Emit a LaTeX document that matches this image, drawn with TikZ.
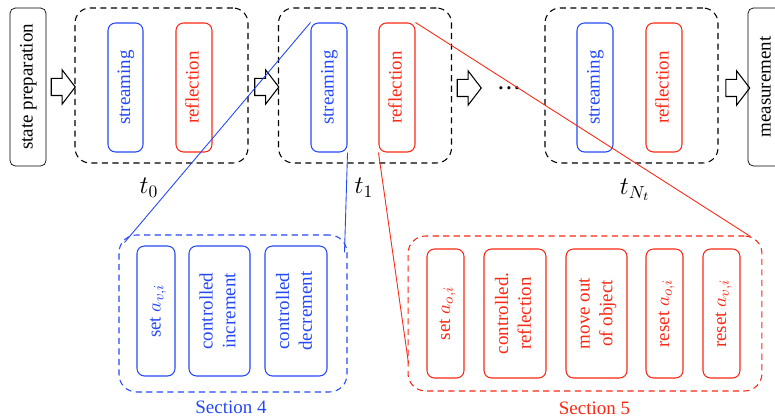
\documentclass[tikz,border=0pt]{standalone}
\usepackage{fontspec}
\setmainfont{Liberation Serif}
\usetikzlibrary{shapes.arrows}
\definecolor{qblue}{RGB}{36,72,245}
\definecolor{qred}{RGB}{250,40,20}
\tikzset{
	endbox/.style={draw, rounded corners=3pt, inner sep=0pt, minimum width=0.72cm, minimum height=3.16cm},
	stepgroup/.style={draw, semithick, dash pattern=on 3.5pt off 2.5pt, rounded corners=0.3cm, minimum width=3.46cm, minimum height=3.1cm},
	secgroup/.style={draw, semithick, dash pattern=on 3.5pt off 2.5pt, rounded corners=0.35cm},
	opbox/.style={draw, semithick, rounded corners=0.15cm, inner sep=0pt, minimum height=2.58cm},
	flowarrow/.style={single arrow, draw, semithick, inner sep=0pt, minimum height=0.48cm, single arrow head extend=0.17cm, single arrow tip angle=105},
	zoomline/.style={line width=0.5pt}
}
\newcommand{\vtext}[1]{\rotatebox{90}{\begin{tabular}{@{}c@{}}#1\end{tabular}}}
\begin{document}
\begin{tikzpicture}[x=0.02cm, y=-0.02cm, font=\fontsize{10.8}{13}\selectfont]
		\useasboundingbox (0,0) rectangle (775,418);

		\node[endbox] (prep) at (28,87) {\vtext{state preparation}};
		\node[endbox] (meas) at (766,87) {\vtext{measurement}};

		\node[stepgroup] (g0) at (161.5,85.5) {};
		\node[opbox, qblue, minimum width=0.7cm] (s0) at (125.5,87.5) {\vtext{streaming}};
		\node[opbox, qred, minimum width=0.72cm] (r0) at (194,87.5) {\vtext{reflection}};
		\node (t0) at (149,188) {\Large $t_0$};

		\node[stepgroup] (g1) at (365,85.5) {};
		\node[opbox, qblue, minimum width=0.72cm] (s1) at (329,87.5) {\vtext{streaming}};
		\node[opbox, qred, minimum width=0.72cm] (r1) at (397,87.5) {\vtext{reflection}};
		\node (t1) at (364,188) {\Large $t_1$};

		\node[stepgroup] (g2) at (631.5,85.5) {};
		\node[opbox, qblue, minimum width=0.72cm] (s2) at (595,87.5) {\vtext{streaming}};
		\node[opbox, qred, minimum width=0.72cm] (r2) at (664,87.5) {\vtext{reflection}};
		\node (t2) at (635,190) {\Large $t_{N_t}$};

		\node[flowarrow] (a0) at (60,87) {\rule{0pt}{0.32cm}};
		\node[flowarrow] (a1) at (263.5,87) {\rule{0pt}{0.32cm}};
		\node[flowarrow] (a2) at (466,88) {\rule{0pt}{0.32cm}};
		\node[flowarrow] (a3) at (734.5,88) {\rule{0pt}{0.32cm}};
		\node[inner sep=0pt] (dots) at (509,88) {\textbf{.\kern1.8pt.\kern1.8pt.}};

		\node[secgroup, qblue, minimum width=4.56cm, minimum height=3.14cm] (sec4) at (233,313.5) {};
		\node[opbox, qblue, minimum width=0.76cm, minimum height=2.6cm] (setv) at (156,311) {\vtext{set $a_{v,i}$}};
		\node[opbox, qblue, minimum width=1.22cm, minimum height=2.6cm] (inc) at (219.5,311) {\vtext{controlled\\increment}};
		\node[opbox, qblue, minimum width=1.24cm, minimum height=2.6cm] (dec) at (296,311) {\vtext{controlled\\decrement}};
		\node[qblue] (lab4) at (231,407) {Section 4};

		\node[secgroup, qred, minimum width=7.08cm, minimum height=3.1cm] (sec5) at (585,313.5) {};
		\node[opbox, qred, minimum width=0.74cm] (seto) at (445.5,313.5) {\vtext{set $a_{o,i}$}};
		\node[opbox, qred, minimum width=1.24cm] (crefl) at (515,313.5) {\vtext{controlled.\\reflection}};
		\node[opbox, qred, minimum width=1.22cm] (move) at (596.5,313.5) {\vtext{move out\\of object}};
		\node[opbox, qred, minimum width=0.74cm] (reso) at (664.5,313.5) {\vtext{reset $a_{o,i}$}};
		\node[opbox, qred, minimum width=0.74cm] (resv) at (721.5,313.5) {\vtext{reset $a_{v,i}$}};
		\node[qred] (lab5) at (594.5,408) {Section 5};

		\draw[zoomline, qblue] (s1.south east) -- ([shift={(-3,18)}]sec4.north east);
		\draw[zoomline, qblue] (s1.north west) -- ([shift={(6,8)}]sec4.north west);
		\draw[zoomline, qred] (r1.north east) -- ([shift={(-12,1)}]sec5.north east);
		\draw[zoomline, qred] (r1.south west) -- ([shift={(1,-28)}]sec5.south west);

	\end{tikzpicture}
\end{document}
